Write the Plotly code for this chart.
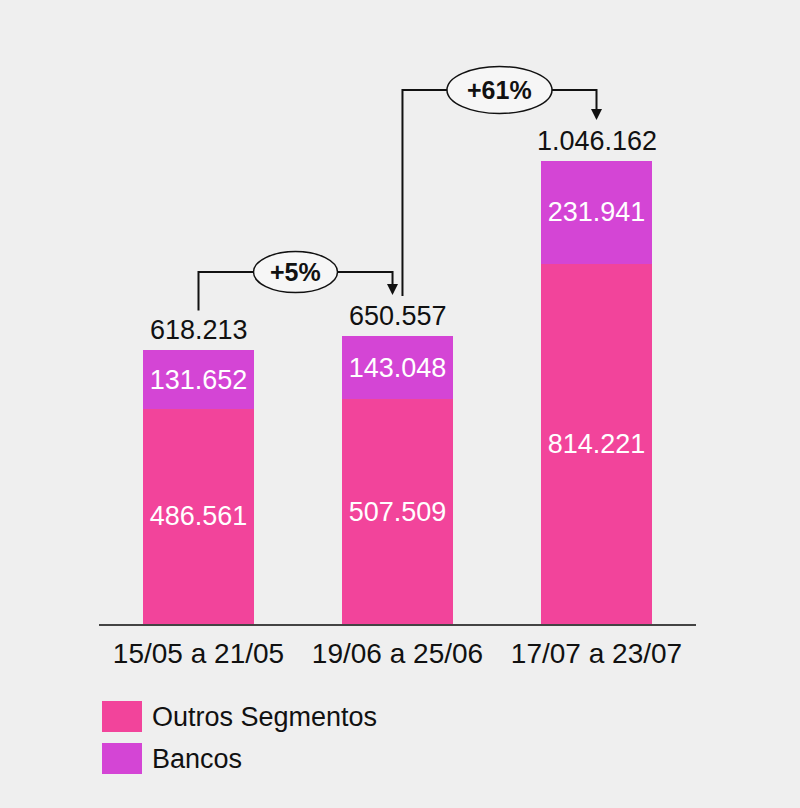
import plotly.graph_objects as go

# dados
periodos = ["15/05 a 21/05", "19/06 a 25/06", "17/07 a 23/07"]
outros_segmentos = [486561, 507509, 814221]
bancos = [131652, 143048, 231941]
series_names = ["Outros Segmentos", "Bancos"]

totais = [o + b for o, b in zip(outros_segmentos, bancos)]

COR_OUTROS = "#f2449b"
COR_BANCOS = "#d445d5"
BG = "#efefef"
FONT = "Liberation Sans, Arial, sans-serif"

# geometria do layout (pixels)
W, H = 800, 808
M_L, M_R, M_T, M_B = 99, 104, 0, 184
PLOT_H = H - M_T - M_B
Y_MAX = 1_410_000


def px(v):
    """distancia em pixels -> unidades do eixo y"""
    return v * Y_MAX / PLOT_H


fig = go.Figure()
fig.add_trace(go.Bar(
    x=periodos, y=outros_segmentos, name=series_names[0],
    marker=dict(color=COR_OUTROS, line=dict(width=0)),
    texttemplate="%{y:,}", textposition="inside", insidetextanchor="middle",
    textangle=0, textfont=dict(color="white", size=27, family=FONT),
))
fig.add_trace(go.Bar(
    x=periodos, y=bancos, name=series_names[1],
    marker=dict(color=COR_BANCOS, line=dict(width=0)),
    texttemplate="%{y:,}", textposition="inside", insidetextanchor="middle",
    textangle=0, textfont=dict(color="white", size=27, family=FONT),
))

annotations = []
shapes = []

# totais acima das barras
for i, t in enumerate(totais):
    annotations.append(dict(
        x=i, y=t, text=f"{t:,}".replace(",", "."), showarrow=False,
        yanchor="middle", yshift=20,
        font=dict(size=27, color="#111111", family=FONT),
    ))

# setas de variacao entre periodos
brackets = [(0, 1, 0.0, -0.025, 64), (1, 2, 0.025, 0.0, 71)]
ellipse_sizes = [(84, 41), (105, 47)]
for (a, b, da, db, rise), (ew, eh) in zip(brackets, ellipse_sizes):
    xa, xb = a + da, b + db
    y_start = totais[a] + px(40)
    y_level = max(totais[a], totais[b]) + px(rise)
    y_tip = totais[b] + px(41)
    shapes.append(dict(
        type="path", xref="x", yref="y",
        path=f"M {xa},{y_start} L {xa},{y_level} L {xb},{y_level} L {xb},{y_tip + px(8)}",
        line=dict(color="#111111", width=2), layer="above",
    ))
    annotations.append(dict(
        x=xb, y=y_tip, ax=0, ay=-12, axref="pixel", ayref="pixel", text="",
        showarrow=True, arrowhead=2, arrowsize=1.1, arrowwidth=2,
        arrowcolor="#111111", standoff=0,
    ))
    xm = (xa + xb) / 2
    shapes.append(dict(
        type="circle", xref="x", yref="y", xsizemode="pixel", ysizemode="pixel",
        xanchor=xm, yanchor=y_level, x0=-ew / 2, x1=ew / 2, y0=-eh / 2, y1=eh / 2,
        fillcolor="#f6f6f6", line=dict(color="#111111", width=1.5), layer="above",
    ))
    pct = round((totais[b] / totais[a] - 1) * 100)
    annotations.append(dict(
        x=xm, y=y_level, text=f"<b>+{pct}%</b>", showarrow=False,
        font=dict(size=25, color="#111111", family=FONT),
    ))

# legenda manual
plot_w = W - M_L - M_R
leg_colors = [COR_OUTROS, COR_BANCOS]
leg_top = [701, 743]
for name, cor, top in zip(series_names, leg_colors, leg_top):
    shapes.append(dict(
        type="rect", xref="paper", yref="paper",
        x0=(102 - M_L) / plot_w, x1=(142 - M_L) / plot_w,
        y0=(PLOT_H - (top + 31)) / PLOT_H, y1=(PLOT_H - top) / PLOT_H,
        fillcolor=cor, line=dict(width=0),
    ))
    annotations.append(dict(
        x=(150 - M_L) / plot_w, y=(PLOT_H - (top + 16)) / PLOT_H,
        xref="paper", yref="paper", xanchor="left", yanchor="middle",
        text=name, showarrow=False,
        font=dict(size=27, color="#111111", family=FONT),
    ))

fig.update_layout(
    width=W, height=H,
    margin=dict(l=M_L, r=M_R, t=M_T, b=M_B),
    barmode="stack", bargap=0.44,
    paper_bgcolor=BG, plot_bgcolor=BG,
    separators=",.",
    showlegend=False,
    hovermode=False,
    font=dict(family=FONT, color="#111111"),
    xaxis=dict(
        range=[-0.5, 2.5], showline=True, linecolor="#444444", linewidth=2,
        showgrid=False, ticks="", zeroline=False, ticklabelstandoff=3,
        tickfont=dict(size=28, color="#111111", family=FONT),
    ),
    yaxis=dict(range=[0, Y_MAX], visible=False, showgrid=False, zeroline=False),
    shapes=shapes,
    annotations=annotations,
)

fig.write_html(
    "out.html",
    config={"displayModeBar": False},
    post_script="document.body.style.margin='0';document.body.style.background='%s';" % BG,
)
